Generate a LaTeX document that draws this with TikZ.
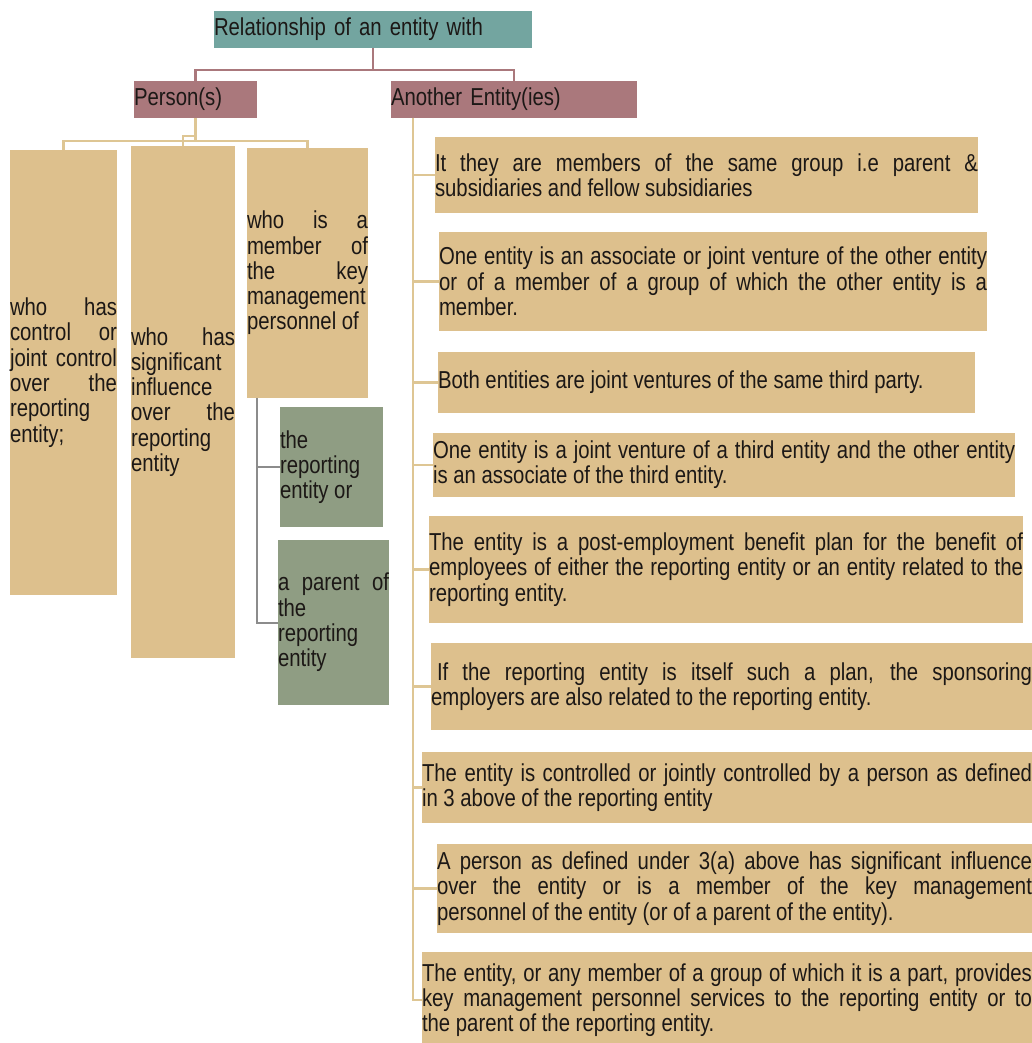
\documentclass[tikz,border=0pt]{standalone}
\usepackage{fontspec}
\setmainfont{Liberation Sans}[FakeStretch=0.83]
\setlength{\parindent}{0pt}
\hyphenpenalty=10000
\exhyphenpenalty=10000
\tolerance=10000
\hbadness=10000
\newcommand\boxfont{\fontsize{24.5}{25.3}\selectfont}
\definecolor{tanfill}{RGB}{221,192,141}
\definecolor{tealfill}{RGB}{115,165,160}
\definecolor{mauvefill}{RGB}{170,120,124}
\definecolor{greenfill}{RGB}{143,157,131}
\definecolor{tanline}{RGB}{222,198,148}
\definecolor{grayline}{RGB}{140,140,140}
\definecolor{txt}{RGB}{28,24,22}
\tikzset{
  bx/.style={anchor=north west, inner sep=0pt, outer sep=0pt, align=justify, font=\boxfont, text=txt},
  hd/.style={bx, align=left},
  tanbox/.style={bx, fill=tanfill},
  greenbox/.style={bx, fill=greenfill},
  mline/.style={draw=mauvefill, line width=2.4pt},
  tline/.style={draw=tanline, line width=2.4pt},
  gline/.style={draw=grayline, line width=2pt}
}
\begin{document}
\begin{tikzpicture}[x=1pt,y=-1pt]
\useasboundingbox (0,0) rectangle (1032,1043);
\fill[white] (0,0) rectangle (1032,1043);
\clip (0,0) rectangle (1032,1043);

% headers
\node[hd, fill=tealfill, text width=318pt, minimum height=37pt] (root) at (214,11) {Relationship of an entity with};
\node[hd, fill=mauvefill, text width=123pt, minimum height=37pt] (per) at (134,81) {Person(s)};
\node[hd, fill=mauvefill, text width=246pt, minimum height=37pt] (ent) at (391,81) {Another Entity(ies)};

% person boxes
\node[tanbox, text width=107pt, minimum height=445pt] (p1) at (10,150) {who has\linebreak control or\linebreak joint control\linebreak over the\linebreak reporting\linebreak entity;};
\node[tanbox, text width=104pt, minimum height=512pt] (p2) at (131,146) {who has\linebreak significant\linebreak influence\linebreak over the\linebreak reporting\linebreak entity};
\node[tanbox, text width=121pt, minimum height=250pt] (p3) at (247,148) {who is a\linebreak member of\linebreak the key\linebreak management\linebreak personnel of};
\node[greenbox, text width=103pt, minimum height=120pt] (g1) at (280,407) {the\linebreak reporting\linebreak entity or};
\node[greenbox, text width=111pt, minimum height=165pt] (g2) at (278,540) {a parent of\linebreak the\linebreak reporting\linebreak entity};

% entity boxes
\node[tanbox, text width=543pt, minimum height=76pt] (e1) at (435,137) {It they are members of the same group i.e parent \&\linebreak subsidiaries and fellow subsidiaries};
\node[tanbox, text width=548pt, minimum height=99pt] (e2) at (439,232) {One entity is an associate or joint venture of the other entity\linebreak or of a member of a group of which the other entity is a\linebreak member.};
\node[tanbox, text width=537pt, minimum height=61pt] (e3) at (438,352) {Both entities are joint ventures of the same third party.};
\node[tanbox, text width=582pt, minimum height=64pt] (e4) at (433,433) {One entity is a joint venture of a third entity and the other entity\linebreak is an associate of the third entity.};
\node[tanbox, text width=594pt, minimum height=107pt] (e5) at (429,516) {The entity is a post-employment benefit plan for the benefit of\linebreak employees of either the reporting entity or an entity related to the\linebreak reporting entity.};
\node[tanbox, text width=601pt, minimum height=87pt] (e6) at (431,643) {\hspace*{6pt}If the reporting entity is itself such a plan, the sponsoring\linebreak employers are also related to the reporting entity.};
\node[tanbox, text width=610pt, minimum height=71pt] (e7) at (422,752) {The entity is controlled or jointly controlled by a person as defined\linebreak in 3 above of the reporting entity};
\node[tanbox, text width=595pt, minimum height=89pt] (e8) at (437,844) {A person as defined under 3(a) above has significant influence\linebreak over the entity or is a member of the key management\linebreak personnel of the entity (or of a parent of the entity).};
\node[tanbox, text width=610pt, minimum height=96pt] (e9) at (422,952) {The entity, or any member of a group of which it is a part, provides\linebreak key management personnel services to the reporting entity or to\linebreak the parent of the reporting entity.};

% connectors
\draw[mline] (root.south) -- ++(0,22) -| (per.north);
\draw[mline] (root.south) -- ++(0,22) -| (ent.north);

\draw[tline] (per.south) -- ++(0,23);
\draw[tline] (per.south) -- ++(0,18) -| (p2.north);
\draw[tline] (p1.north) -- ++(0,-9) -| (p3.north);

\coordinate (gt) at ([xshift=10pt]p3.south west);
\draw[gline] (gt) |- (g1.west);
\draw[gline] (gt) |- (g2.west);

\coordinate (et) at ([xshift=22pt]ent.south west);
\foreach \n in {e1,e2,e3,e4,e5,e6,e7,e8,e9}{
  \draw[tline] (et) |- (\n.west);
}
\end{tikzpicture}
\end{document}
